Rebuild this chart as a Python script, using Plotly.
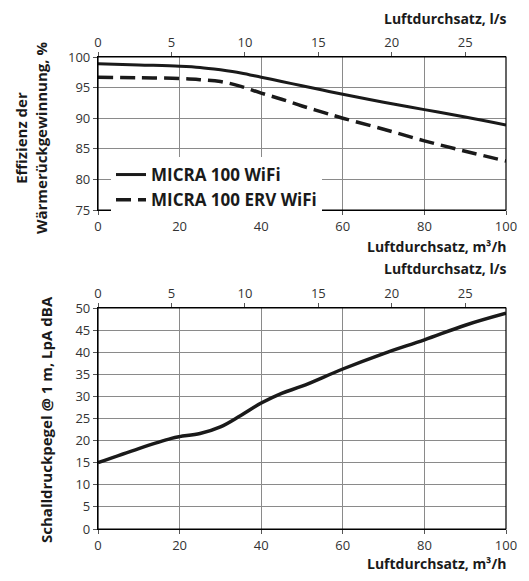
import plotly.graph_objects as go

# air flow, m3/h
flow_eff = [0, 10, 20, 25, 30, 35, 40, 45, 50, 55, 60, 70, 80, 90, 100]
eff_wifi = [98.9, 98.7, 98.5, 98.3, 97.9, 97.4, 96.7, 96.0, 95.3, 94.6, 93.9, 92.6, 91.4, 90.2, 88.9]
eff_erv = [96.7, 96.6, 96.5, 96.3, 96.0, 95.2, 94.1, 93.1, 92.0, 91.0, 90.0, 88.2, 86.3, 84.6, 83.0]

flow_snd = [0, 10, 18, 20, 25, 30, 35, 40, 45, 50, 60, 70, 80, 90, 100]
sound = [15.0, 18.2, 20.5, 20.9, 21.6, 23.1, 25.7, 28.5, 30.7, 32.3, 36.2, 39.7, 42.8, 46.1, 48.8]

m3h_ticks = [0, 20, 40, 60, 80, 100]
ls_ticks = [0, 5, 10, 15, 20, 25]
LS_MAX = 100 / 3.6

# page body has an 8px margin, so the figure is shrunk to fit the window
OFF = 8
W, H = 529 - 2 * OFF, 581 - 2 * OFF
FONT = "Open Sans"
GRID = "#8a8a8a"


def px_x(p):
    return (p - OFF) / W


def px_y(p):
    return 1 - (p - OFF) / H


fig = go.Figure()

fig.add_trace(go.Scatter(x=flow_eff, y=eff_wifi, mode="lines", name="MICRA 100 WiFi",
                         line=dict(color="#1a1a1a", width=3, shape="spline"),
                         xaxis="x", yaxis="y"))
fig.add_trace(go.Scatter(x=flow_eff, y=eff_erv, mode="lines", name="MICRA 100 ERV WiFi",
                         line=dict(color="#1a1a1a", width=3.5, dash="15px,7px", shape="spline"),
                         xaxis="x", yaxis="y"))
# invisible helpers so the l/s axes are drawn
fig.add_trace(go.Scatter(x=[v / 3.6 for v in flow_eff], y=eff_wifi, mode="lines",
                         line=dict(width=0), opacity=0, showlegend=False, hoverinfo="skip",
                         xaxis="x2", yaxis="y"))
fig.add_trace(go.Scatter(x=flow_snd, y=sound, mode="lines", showlegend=False,
                         line=dict(color="#1a1a1a", width=3.5, shape="spline"),
                         xaxis="x3", yaxis="y3"))
fig.add_trace(go.Scatter(x=[v / 3.6 for v in flow_snd], y=sound, mode="lines",
                         line=dict(width=0), opacity=0, showlegend=False, hoverinfo="skip",
                         xaxis="x4", yaxis="y3"))

xdom = [px_x(98), px_x(506)]
tick_font = dict(family=FONT, size=13, color="#333333")
common = dict(showline=True, linecolor="black", linewidth=1.2, mirror=False,
              ticks="outside", ticklen=4, tickcolor="#555555", automargin=False,
              tickfont=tick_font, zeroline=False)

fig.update_layout(
    template="none",
    width=W, height=H,
    margin=dict(l=0, r=0, t=0, b=0, autoexpand=False),
    paper_bgcolor="white", plot_bgcolor="white",
    font=dict(family=FONT, color="#1a1a1a"),
    xaxis=dict(domain=xdom, range=[0, 100], tickvals=m3h_ticks, anchor="y",
               showgrid=True, gridcolor=GRID, gridwidth=1, **common),
    xaxis2=dict(range=[0, LS_MAX], tickvals=ls_ticks, overlaying="x", side="top",
                anchor="y", showgrid=False, **common),
    yaxis=dict(domain=[px_y(210), px_y(57)], range=[75, 100], dtick=5, anchor="x",
               showgrid=True, gridcolor=GRID, gridwidth=1, **common),
    xaxis3=dict(domain=xdom, range=[0, 100], tickvals=m3h_ticks, anchor="y3",
                showgrid=True, gridcolor=GRID, gridwidth=1, **common),
    xaxis4=dict(range=[0, LS_MAX], tickvals=ls_ticks, overlaying="x3", side="top",
                anchor="y3", showgrid=False, **common),
    yaxis3=dict(domain=[px_y(529), px_y(308)], range=[0, 50], dtick=5, anchor="x3",
                showgrid=True, gridcolor=GRID, gridwidth=1, **common),
    legend=dict(x=px_x(111), y=px_y(157), xanchor="left", yanchor="top",
                bgcolor="white", borderwidth=0, tracegroupgap=0,
                font=dict(family=FONT, size=17, color="#1a1a1a", weight="bold")),
    showlegend=True,
)

# frame on right/top edges
for y0, y1 in [(px_y(210), px_y(57)), (px_y(529), px_y(308))]:
    fig.add_shape(type="rect", xref="paper", yref="paper", x0=xdom[0], x1=xdom[1],
                  y0=y0, y1=y1, line=dict(color="black", width=1.2), layer="above")

title_font = dict(family=FONT, size=14, color="#1a1a1a", weight="bold")


def note(text, x, y, xanchor="right", angle=0, size=14):
    fig.add_annotation(text=text, x=px_x(x), y=px_y(y), xref="paper", yref="paper",
                       xanchor=xanchor, yanchor="middle", showarrow=False,
                       textangle=angle, font=dict(title_font, size=size))


note("Luftdurchsatz, l/s", 508, 19)
note("Luftdurchsatz, m³/h", 508, 246)
note("Luftdurchsatz, l/s", 508, 268)
note("Luftdurchsatz, m³/h", 508, 563)
note("Effizienz der<br>Wärmerückgewinnung, %", 31, 138, xanchor="center", angle=-90, size=15)
note("Schalldruckpegel @ 1 m, LpA dBA", 46, 420, xanchor="center", angle=-90, size=15)

fig.write_html("out.html")
